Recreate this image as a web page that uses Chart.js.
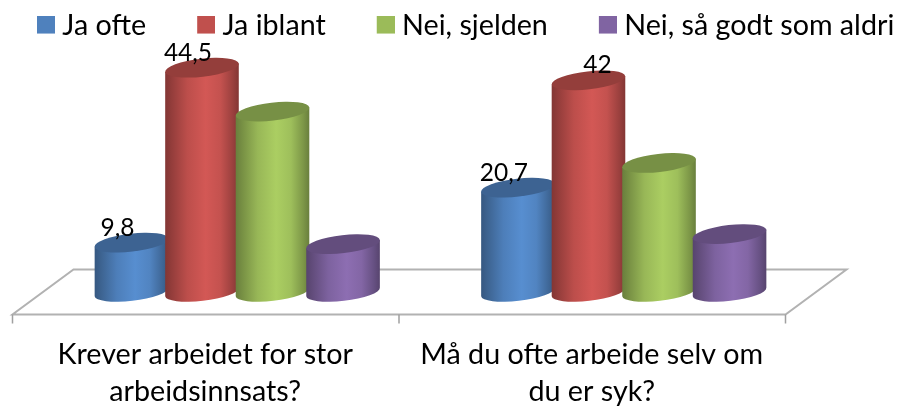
<!DOCTYPE html>
<html><head><meta charset="utf-8">
<style>html,body{margin:0;padding:0;background:#fff}canvas{display:block}</style>
<script src="https://cdn.jsdelivr.net/npm/chart.js@4"></script>
</head><body><canvas id="c" width="898" height="406"></canvas>
<script>
const categories = [["Krever arbeidet for stor","arbeidsinnsats?"],["Må du ofte arbeide selv om","du er syk?"]];
const seriesNames = ["Ja ofte","Ja iblant","Nei, sjelden","Nei, så godt som aldri"];
const jaOfte = [9.8,20.7];
const jaIblant = [44.5,42];
const neiSjelden = [35.8,25.6];
const neiAldri = [9.5,11.5];
const colors = ["#4F81BD","#C0504D","#9BBB59","#8064A2"];
const labelled = [true,true,false,false];
const labelShift = [[-14,-14],[-14,9]];
const FONT = "Lato, Carlito, sans-serif";

function shade(hex,f){
  const n=parseInt(hex.slice(1),16);
  const c=[n>>16,(n>>8)&255,n&255].map(v=>Math.min(255,Math.round(v*f)));
  return `rgb(${c[0]},${c[1]},${c[2]})`;
}
const TILT=-6.5*Math.PI/180;
Chart.BarElement.prototype.draw=function(ctx){
  const base=this.options.backgroundColor;
  const w=this.width*1.05, a=w/2, b=8.8, cx=this.x, ty=this.y, by=this.base;
  const dx=a*Math.cos(TILT), dy=a*Math.sin(TILT);
  ctx.save();
  const g=ctx.createLinearGradient(cx-dx,0,cx+dx,0);
  [[0,.68],[.1,.78],[.3,.98],[.55,1.1],[.75,1.02],[.92,.8],[1,.68]].forEach(s=>g.addColorStop(s[0],shade(base,s[1])));
  ctx.fillStyle=g;
  ctx.beginPath();
  ctx.moveTo(cx-dx,ty-dy);
  ctx.lineTo(cx-dx,by-dy);
  ctx.ellipse(cx,by,a,b,TILT,Math.PI,0,true);
  ctx.lineTo(cx+dx,ty+dy);
  ctx.closePath();
  ctx.fill();
  ctx.fillStyle=shade(base,.77);
  ctx.beginPath();
  ctx.ellipse(cx,ty,a,b+.2,TILT,0,Math.PI*2);
  ctx.fill();
  ctx.restore();
};
function swatch(color){
  const s=document.createElement('canvas');s.width=25;s.height=21;
  const x=s.getContext('2d');x.fillStyle=color;x.fillRect(7,0,18,18);
  return s;
}
const scene={
  id:'scene',
  afterLayout(chart){
    const l=chart.legend;
    l.top=-39.3; l.left=-14; l.right=3000;
  },
  beforeDatasetsDraw(chart){
    const ctx=chart.ctx,xs=chart.scales.x,y0=chart.scales.y.getPixelForValue(0);
    const fy=y0+22.5,by=y0-22.5,fo=-31.5,bo=29.5;
    const mid=(xs.left+xs.right)/2;
    ctx.save();
    ctx.strokeStyle='#b2b2b2';ctx.lineWidth=2;
    ctx.beginPath();
    ctx.moveTo(xs.left+fo,fy);ctx.lineTo(xs.right+fo,fy);
    ctx.lineTo(xs.right+bo,by);ctx.lineTo(xs.left+bo,by);ctx.closePath();
    ctx.stroke();
    ctx.lineWidth=1.5;ctx.strokeStyle='#a0a0a0';
    ctx.beginPath();
    [xs.left,mid,xs.right].forEach(x=>{ctx.moveTo(x+fo,fy);ctx.lineTo(x+fo,fy+9);});
    ctx.stroke();
    ctx.restore();
    chart.data.datasets.forEach((d,i)=>chart.getDatasetMeta(i).controller.draw());
    return false;
  },
  afterDraw(chart){
    const ctx=chart.ctx;
    ctx.save();
    ctx.font="24.5px "+FONT;ctx.fillStyle='#000';ctx.textAlign='center';ctx.textBaseline='middle';
    chart.data.datasets.forEach((d,i)=>{
      if(!labelled[i])return;
      chart.getDatasetMeta(i).data.forEach((el,j)=>{
        ctx.fillText(String(d.data[j]).replace('.',','),el.x+labelShift[i][j],el.y-15);
      });
    });
    ctx.restore();
  }
};
new Chart(document.getElementById('c'),{
  type:'bar',
  data:{labels:categories,datasets:[jaOfte,jaIblant,neiSjelden,neiAldri].map((v,i)=>({
    label:seriesNames[i],data:v,backgroundColor:colors[i],barPercentage:1,categoryPercentage:.73
  }))},
  options:{
    responsive:false,animation:false,
    layout:{padding:{left:44,right:81,top:0,bottom:0}},
    plugins:{
      tooltip:{enabled:false},
      legend:{
        display:true,position:'top',align:'start',maxHeight:40,
        labels:{
          usePointStyle:true,pointStyleWidth:11,padding:51,color:'#000',
          font:{family:FONT,size:28.7,lineHeight:1},
          generateLabels(chart){
            return seriesNames.map((t,i)=>({text:t,fillStyle:colors[i],strokeStyle:colors[i],lineWidth:0,pointStyle:swatch(colors[i]),datasetIndex:i,fontColor:'#000'}));
          }
        }
      }
    },
    scales:{
      x:{
        grid:{display:false},border:{display:false},
        afterFit(s){s.height=114;},
        ticks:{color:'#000',padding:36,labelOffset:-32,maxRotation:0,minRotation:0,autoSkip:false,
          font:{family:FONT,size:28.7,lineHeight:1.29}}
      },
      y:{display:false,min:0,max:50}
    }
  },
  plugins:[scene]
});
</script></body></html>
